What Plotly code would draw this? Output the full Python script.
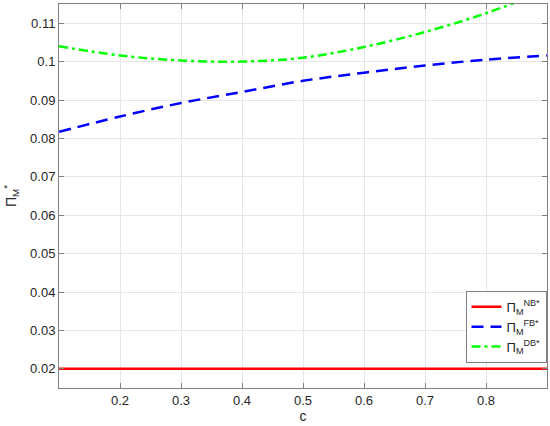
import plotly.graph_objects as go

# data
c = [0.1, 0.2, 0.3, 0.4, 0.5, 0.6, 0.7, 0.8, 0.9]
pi_nb = [0.02, 0.02, 0.02, 0.02, 0.02, 0.02, 0.02, 0.02, 0.02]
pi_fb = [0.0817, 0.0857, 0.0892, 0.0921, 0.0950, 0.0971, 0.0990, 0.1005, 0.1016]
pi_db = [0.1040, 0.1016, 0.1003, 0.1000, 0.1010, 0.1038, 0.1077, 0.1126, 0.1186]

x_ticks = [0.2, 0.3, 0.4, 0.5, 0.6, 0.7, 0.8]
y_ticks = [0.02, 0.03, 0.04, 0.05, 0.06, 0.07, 0.08, 0.09, 0.1, 0.11]

fig = go.Figure()

fig.add_trace(go.Scatter(
    x=c, y=pi_nb, mode='lines',
    name='Π<sub>M</sub><sup>NB*</sup>',
    line=dict(color='#ff0000', width=2.5)
))
fig.add_trace(go.Scatter(
    x=c, y=pi_fb, mode='lines', line_shape='spline',
    name='Π<sub>M</sub><sup>FB*</sup>',
    line=dict(color='#0000ff', width=2.5, dash='12px,7px')
))
fig.add_trace(go.Scatter(
    x=c, y=pi_db, mode='lines', line_shape='spline',
    name='Π<sub>M</sub><sup>DB*</sup>',
    line=dict(color='#00ff00', width=2.5, dash='9px,4px,3px,4px')
))

axis_style = dict(
    showgrid=True, gridcolor='#e6e6e6', gridwidth=1,
    showline=True, linecolor='#808080', linewidth=1, mirror='ticks',
    ticks='inside', ticklen=5, tickcolor='#808080',
    zeroline=False,
    tickfont=dict(size=13, color='#262626')
)

fig.update_layout(
    width=550, height=426,
    margin=dict(l=59, r=3, t=4, b=38),
    paper_bgcolor='white', plot_bgcolor='white',
    font=dict(family='Liberation Sans, Arial, sans-serif', color='#262626'),
    xaxis=dict(range=[0.1, 0.9], tickvals=x_ticks,
               title=dict(text='c', font=dict(size=14), standoff=4), **axis_style),
    yaxis=dict(range=[0.015, 0.115], tickvals=y_ticks,
               title=dict(text='Π<sub>M</sub><sup>*</sup>', font=dict(size=14), standoff=10),
               **axis_style),
    legend=dict(x=0.999, xanchor='right', y=0.253, yanchor='top',
                bgcolor='white', bordercolor='#808080', borderwidth=1,
                font=dict(size=13), tracegroupgap=0),
    showlegend=True
)

# drop the page's default body margin so the figure sits at the window's corner
fig.write_html("out.html", config={'displayModeBar': False},
               post_script="document.body.style.margin='0';")
